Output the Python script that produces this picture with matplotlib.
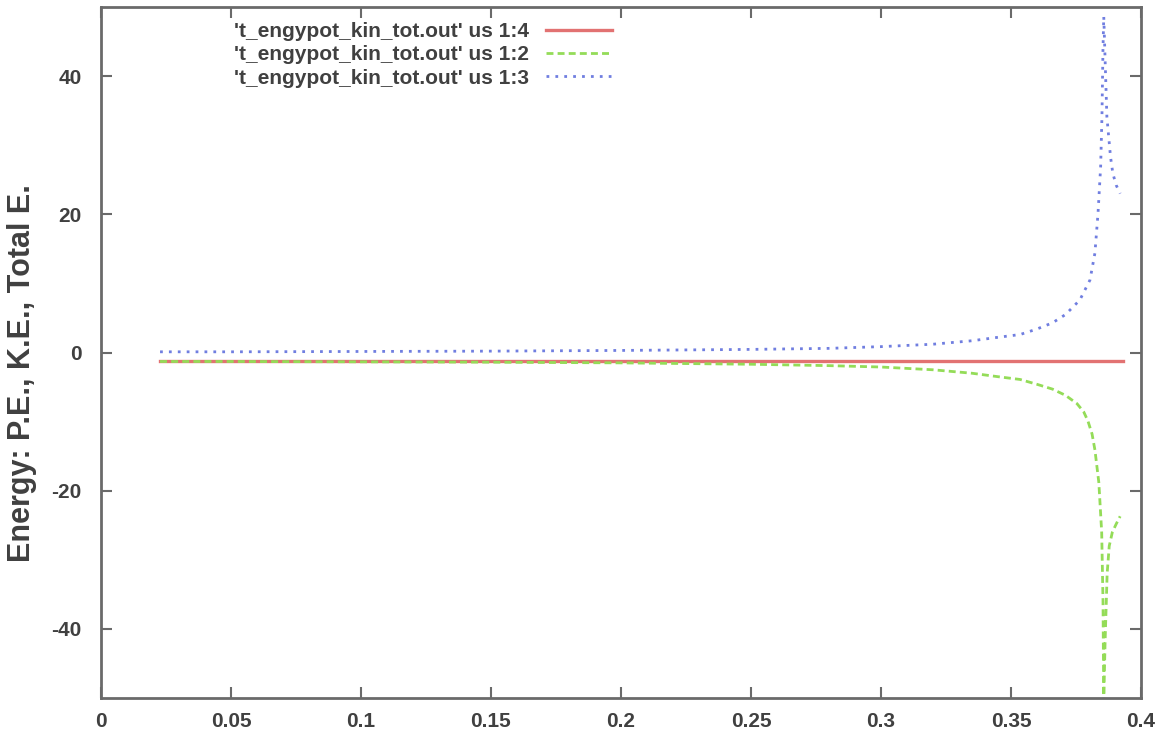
import matplotlib
matplotlib.use("Agg")
import matplotlib.pyplot as plt

plt.rcParams['font.family'] = ['Liberation Sans', 'DejaVu Sans']
plt.rcParams['font.weight'] = 'bold'
plt.rcParams['axes.unicode_minus'] = False

# column 4: total energy
tot_x = [0.0227, 0.10, 0.20, 0.30, 0.393]
tot_y = [-1.2, -1.2, -1.2, -1.2, -1.2]

# column 2: potential energy
pe_x = [0.0227, 0.05, 0.10, 0.15, 0.20, 0.25, 0.28, 0.30, 0.32, 0.335, 0.345,
        0.3535, 0.36, 0.366, 0.371, 0.3754, 0.3780, 0.3796, 0.3812, 0.3823,
        0.3838, 0.3849, 0.3854, 0.3857, 0.3862, 0.3870, 0.3878, 0.3890,
        0.3905, 0.392]
pe_y = [-1.3, -1.3, -1.35, -1.4, -1.5, -1.7, -1.9, -2.1, -2.5, -3.0, -3.5,
        -3.9, -4.6, -5.3, -6.2, -7.4, -8.6, -9.9, -11.8, -14.1,
        -18.8, -26.0, -35.8, -50.5, -42.0, -32.0, -28.0, -26.0,
        -24.8, -23.7]

# column 3: kinetic energy
ke_x = [0.0227, 0.05, 0.10, 0.15, 0.20, 0.25, 0.28, 0.30, 0.32, 0.335, 0.345,
        0.3535, 0.36, 0.366, 0.371, 0.3765, 0.3804, 0.3823, 0.3835, 0.3845,
        0.385, 0.3854, 0.3857, 0.3869, 0.3883, 0.3892, 0.3905, 0.392]
ke_y = [0.1, 0.1, 0.15, 0.2, 0.3, 0.45, 0.6, 0.85, 1.2, 1.7, 2.2,
        2.6, 3.4, 4.3, 5.5, 7.6, 10.5, 14.4, 20.2, 26.9,
        34.1, 44.0, 48.6, 34.1, 28.3, 25.9, 24.2, 23.0]

x_ticks = [0, 0.05, 0.1, 0.15, 0.2, 0.25, 0.3, 0.35, 0.4]
x_labels = ['0', '0.05', '0.1', '0.15', '0.2', '0.25', '0.3', '0.35', '0.4']
y_ticks = [-40, -20, 0, 20, 40]

fname = "t_engypot_kin_tot.out"
labels = ["'%s' us 1:4" % fname, "'%s' us 1:2" % fname, "'%s' us 1:3" % fname]

fig = plt.figure(figsize=(11.72, 7.36), dpi=100)
ax = fig.add_axes([0.0862, 0.0516, 0.8873, 0.9389])

ax.plot(tot_x, tot_y, color='#e27272', lw=2.4, label=labels[0])
ax.plot(pe_x, pe_y, color='#94dc58', lw=2.0, ls=(0, (2.5, 1.5)), label=labels[1])
ax.plot(ke_x, ke_y, color='#707ee0', lw=2.0, ls=(0, (1, 2.2)), label=labels[2])

ax.set_xlim(0, 0.4)
ax.set_ylim(-50, 50)
ax.set_xticks(x_ticks)
ax.set_xticklabels(x_labels)
ax.set_yticks(y_ticks)

for s in ax.spines.values():
    s.set_color('#6a6a6a')
    s.set_linewidth(2)
ax.tick_params(direction='in', length=8, width=1.5, color='#6a6a6a',
               top=True, right=True, labelsize=15, labelcolor='#404040')
ax.tick_params(axis='x', pad=10)
ax.tick_params(axis='y', pad=14)

ax.set_ylabel('Energy: P.E., K.E., Total E.', fontsize=22, color='#404040',
              fontweight='bold')
ax.yaxis.set_label_coords(-0.062, 0.47)

leg = ax.legend(loc='upper left', bbox_to_anchor=(0.12, 0.99), frameon=False,
                fontsize=15, markerfirst=False, handlelength=3.2,
                handletextpad=0.8, labelspacing=0.2, borderaxespad=0)
for t in leg.get_texts():
    t.set_color('#404040')
    t.set_ha('right')

fig.savefig('out.png', dpi=100)
